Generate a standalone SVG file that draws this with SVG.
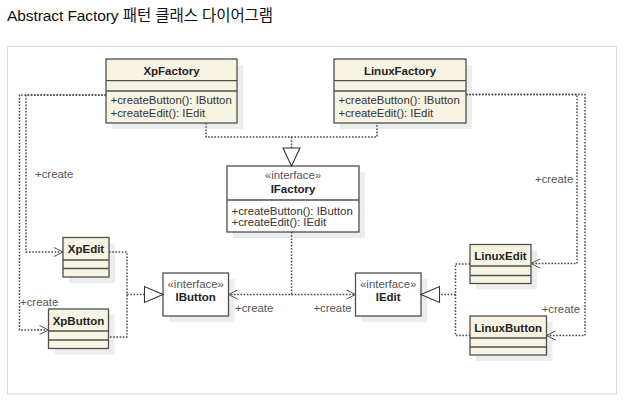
<svg xmlns="http://www.w3.org/2000/svg" width="624" height="407" viewBox="0 0 624 407">
<style>
text{font-family:"Liberation Sans",Arial,"Noto Sans CJK KR",sans-serif}
.title{font-size:15.5px;fill:#111}
.box{fill:#f7f4e3;stroke:#4f4f4f;stroke-width:1.3}
.ibox{fill:#fff;stroke:#4f4f4f;stroke-width:1.3}
.sh{fill:#ededed}
.div{stroke:#4f4f4f;stroke-width:1.3}
.name{font-size:11.5px;font-weight:bold;fill:#222;text-anchor:middle}
.st{font-size:11.4px;fill:#555;text-anchor:middle}
.m{font-size:11.4px;fill:#333}
.lbl{font-size:11.4px;fill:#555}
.dot{fill:none;stroke:#4a4a4a;stroke-width:1.5;stroke-dasharray:1.6 1.6}
.arr{fill:none;stroke:#555;stroke-width:1}
.tri{fill:#fff;stroke:#333;stroke-width:1.1}
</style>
<rect x="0" y="0" width="624" height="407" fill="#fff"/>
<text class="title" x="7" y="20.5" textLength="266" lengthAdjust="spacing">Abstract Factory 패턴 클래스 다이어그램</text>
<rect x="7.5" y="46.5" width="609" height="347.5" fill="none" stroke="#ddd" stroke-width="1"/>

<g id="XpFactory">
<rect class="sh" x="112" y="65" width="131" height="64"/>
<rect class="box" x="106" y="59" width="131" height="64"/>
<line class="div" x1="106" y1="80.7" x2="237" y2="80.7"/>
<line class="div" x1="106" y1="91" x2="237" y2="91"/>
<text class="name" x="171.5" y="74.5">XpFactory</text>
<text class="m" x="110.5" y="104">+createButton(): IButton</text>
<text class="m" x="110.5" y="116.5">+createEdit(): IEdit</text>
</g>

<g id="LinuxFactory">
<rect class="sh" x="340" y="65" width="132" height="64"/>
<rect class="box" x="334" y="59" width="132" height="64"/>
<line class="div" x1="334" y1="80.7" x2="466" y2="80.7"/>
<line class="div" x1="334" y1="91" x2="466" y2="91"/>
<text class="name" x="400" y="74.5">LinuxFactory</text>
<text class="m" x="338.5" y="104">+createButton(): IButton</text>
<text class="m" x="338.5" y="116.5">+createEdit(): IEdit</text>
</g>

<g id="IFactory">
<rect class="sh" x="233" y="172" width="132" height="66"/>
<rect class="ibox" x="227" y="166" width="132" height="66"/>
<line class="div" x1="227" y1="200" x2="359" y2="200"/>
<text class="st" x="293" y="178.5">«interface»</text>
<text class="name" x="293" y="193">IFactory</text>
<text class="m" x="231.5" y="214.5">+createButton(): IButton</text>
<text class="m" x="231.5" y="226">+createEdit(): IEdit</text>
</g>

<g id="XpEdit">
<rect class="sh" x="69" y="243.5" width="46" height="39.5"/>
<rect class="box" x="63" y="237.5" width="46" height="39.5"/>
<line class="div" x1="63" y1="260" x2="109" y2="260"/>
<line class="div" x1="63" y1="268.5" x2="109" y2="268.5"/>
<text class="name" x="86" y="253">XpEdit</text>
</g>

<g id="XpButton">
<rect class="sh" x="54.5" y="315" width="60" height="39.5"/>
<rect class="box" x="48.5" y="309" width="60" height="39.5"/>
<line class="div" x1="48.5" y1="331" x2="108.5" y2="331"/>
<line class="div" x1="48.5" y1="340" x2="108.5" y2="340"/>
<text class="name" x="78.5" y="324.5">XpButton</text>
</g>

<g id="IButton">
<rect class="sh" x="169" y="279" width="65.5" height="43"/>
<rect class="ibox" x="163" y="273" width="65.5" height="43"/>
<text class="st" x="195.7" y="287.5">«interface»</text>
<text class="name" x="195.7" y="300.5">IButton</text>
</g>

<g id="IEdit">
<rect class="sh" x="361.5" y="279" width="65.5" height="43"/>
<rect class="ibox" x="355.5" y="273" width="65.5" height="43"/>
<text class="st" x="388.2" y="287.5">«interface»</text>
<text class="name" x="388.2" y="300.5">IEdit</text>
</g>

<g id="LinuxEdit">
<rect class="sh" x="476" y="250.5" width="61" height="39"/>
<rect class="box" x="470" y="244.5" width="61" height="39"/>
<line class="div" x1="470" y1="266" x2="531" y2="266"/>
<line class="div" x1="470" y1="275.5" x2="531" y2="275.5"/>
<text class="name" x="500.5" y="260">LinuxEdit</text>
</g>

<g id="LinuxButton">
<rect class="sh" x="476" y="322" width="76.5" height="39"/>
<rect class="box" x="470" y="316" width="76.5" height="39"/>
<line class="div" x1="470" y1="338" x2="546.5" y2="338"/>
<line class="div" x1="470" y1="347" x2="546.5" y2="347"/>
<text class="name" x="508.2" y="331.5">LinuxButton</text>
</g>

<g id="connectors">
<path class="dot" d="M206,123 V137 H377 V123"/>
<path class="dot" d="M291.5,137 V148"/>
<polygon class="tri" points="283,148 300,148 291.5,166"/>
<path class="dot" d="M106,95 H19.5 V330 H48.5"/>
<path class="dot" d="M106,95 H26 V252 H63"/>
<path class="arr" d="M54,247.5 L63,252 L54,256.5"/>
<path class="arr" d="M39.5,325.5 L48.5,330 L39.5,334.5"/>
<path class="dot" d="M466,94.5 H585 V335.5 H546.5"/>
<path class="dot" d="M466,94.5 H577 V263.5 H531"/>
<path class="arr" d="M540,259 L531,263.5 L540,268"/>
<path class="arr" d="M555.5,331 L546.5,335.5 L555.5,340"/>
<path class="dot" d="M109,252 H127 V337 H108.5"/>
<path class="dot" d="M127,294.5 H144.5"/>
<polygon class="tri" points="144.5,286.5 144.5,302.5 163,294.5"/>
<path class="dot" d="M470,264 H455.5 V335.5 H470"/>
<path class="dot" d="M455.5,294.5 H439.5"/>
<polygon class="tri" points="439.5,286.5 439.5,302.5 421,294.5"/>
<path class="dot" d="M291.5,232 V294.5 H228.5"/>
<path class="dot" d="M291.5,294.5 H355.5"/>
<path class="arr" d="M237.5,290 L228.5,294.5 L237.5,299"/>
<path class="arr" d="M346.5,290 L355.5,294.5 L346.5,299"/>
<text class="lbl" x="35" y="178">+create</text>
<text class="lbl" x="20" y="306">+create</text>
<text class="lbl" x="235" y="312">+create</text>
<text class="lbl" x="351.7" y="311.7" text-anchor="end">+create</text>
<text class="lbl" x="573.3" y="183" text-anchor="end">+create</text>
<text class="lbl" x="580" y="312.7" text-anchor="end">+create</text>
</g>
</svg>
